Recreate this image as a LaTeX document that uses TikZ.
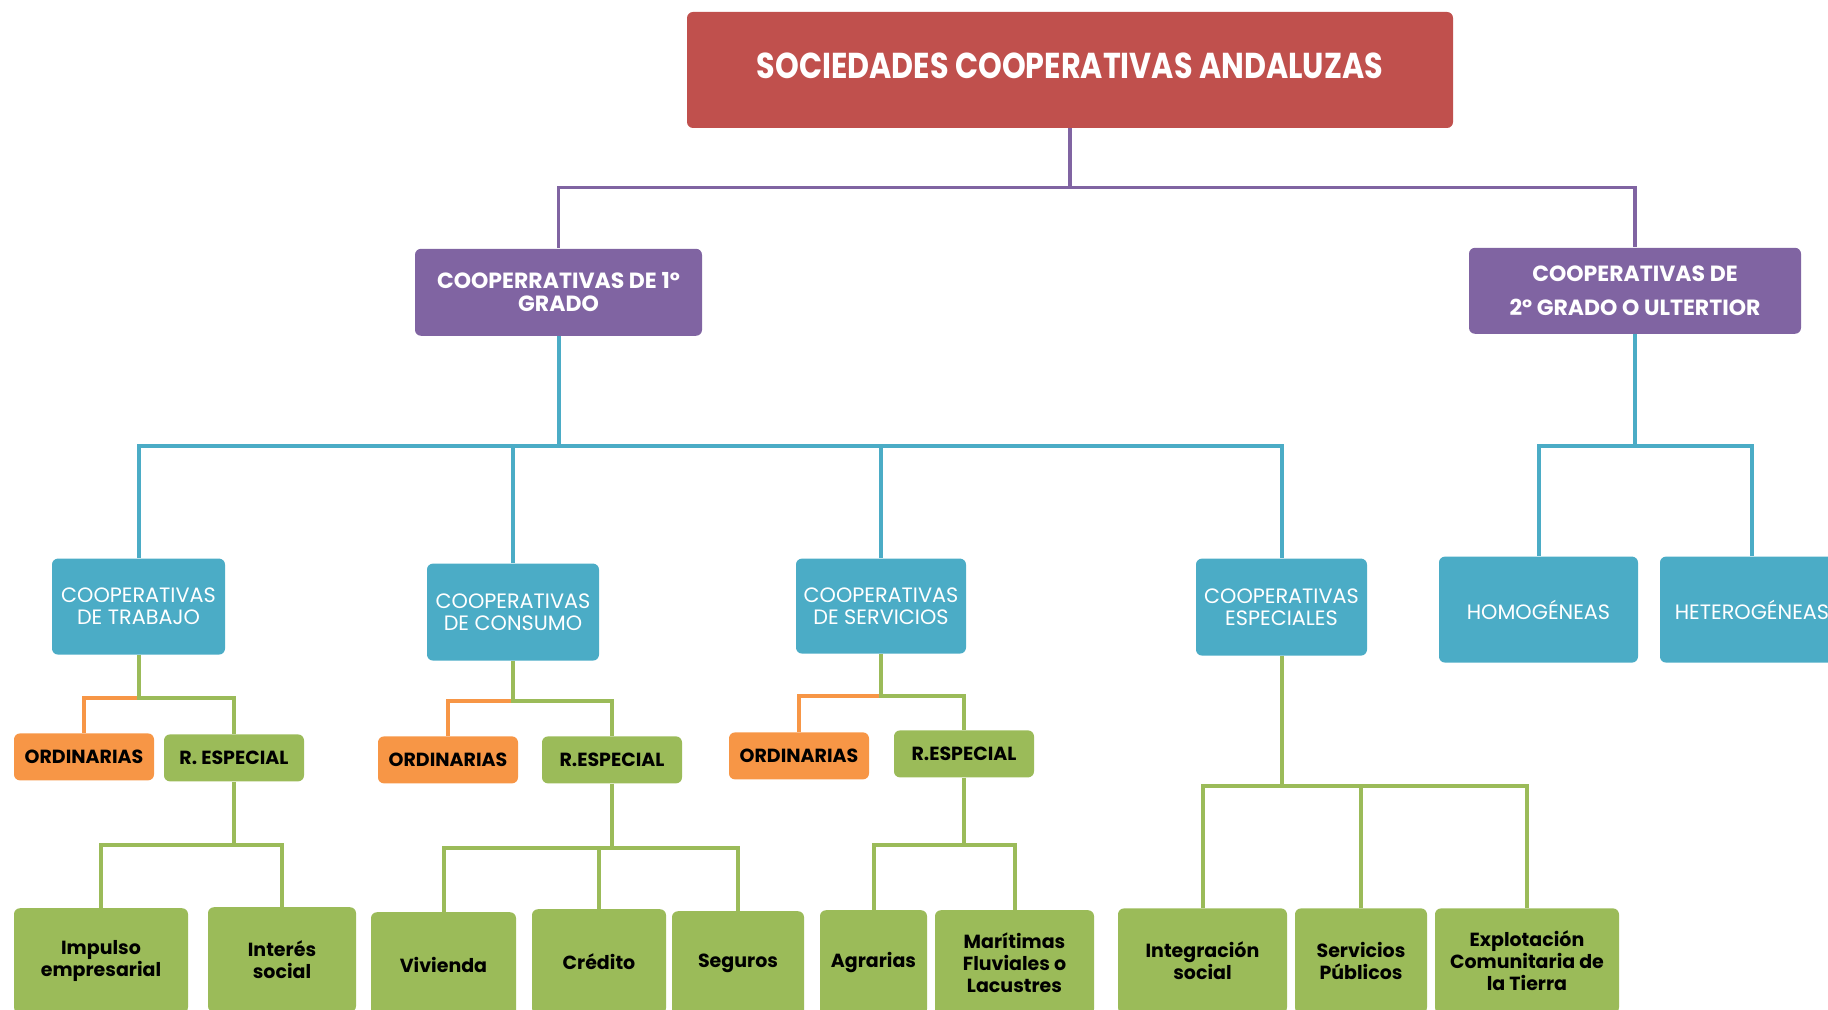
\documentclass[tikz,border=0pt]{standalone}
\usepackage{fontspec}
\setmainfont{Poppins}
\newfontfamily\titlefont{Poppins}[FakeStretch=0.84]
\usetikzlibrary{positioning}
\definecolor{cred}{HTML}{C0504D}
\definecolor{cpurple}{HTML}{8064A2}
\definecolor{cblue}{HTML}{4BACC6}
\definecolor{cgreen}{HTML}{9BBB59}
\definecolor{corange}{HTML}{F79646}

\begin{document}
\begin{tikzpicture}[
    titlebox/.style={rectangle, rounded corners=3pt, fill=cred, text=white, inner sep=0pt, minimum width=383pt, minimum height=58pt, text depth=4pt, font=\titlefont\bfseries\fontsize{18}{20}\selectfont},
    purplebox/.style={rectangle, rounded corners=3pt, fill=cpurple, text=white, inner sep=0pt, align=center, font=\bfseries\fontsize{11}{11.7}\selectfont},
    bluebox/.style={rectangle, rounded corners=3pt, fill=cblue, text=white, inner sep=0pt, align=center, font=\fontsize{10.4}{11}\selectfont},
    ordbox/.style={rectangle, rounded corners=3pt, fill=corange, text=black, inner sep=0pt, minimum width=70pt, minimum height=23.5pt, font=\bfseries\fontsize{9.5}{11}\selectfont},
    espbox/.style={rectangle, rounded corners=3pt, fill=cgreen, text=black, inner sep=0pt, minimum width=70pt, minimum height=23.5pt, font=\bfseries\fontsize{9.5}{11}\selectfont},
    leafbox/.style={rectangle, rounded corners=3pt, fill=cgreen, text=black, inner sep=0pt, minimum height=52.5pt, align=center, font=\bfseries\fontsize{9.5}{11}\selectfont},
    purpleline/.style={draw=cpurple, line width=1.8pt},
    blueline/.style={draw=cblue, line width=2pt},
    greenline/.style={draw=cgreen, line width=2pt},
    orangeline/.style={draw=corange, line width=2pt},
]
\path [use as bounding box, clip] (0,0) rectangle (914pt,-505pt);

% Top levels
\node (root) [titlebox] at (535pt,-35pt) {SOCIEDADES COOPERATIVAS ANDALUZAS};
\node (grado1) [purplebox, minimum width=143.5pt, minimum height=43.5pt, below=60pt of root, xshift=-255.75pt] {COOPERRATIVAS DE 1º\\GRADO};
\node (grado2) [purplebox, minimum width=166pt, minimum height=43pt, below=59.5pt of root, xshift=282.5pt] {COOPERATIVAS DE\\[5pt]2º GRADO O ULTERTIOR};

% Kinds of cooperatives
\node (trabajo) [bluebox, minimum width=86.5pt, minimum height=48pt, below=111pt of grado1, xshift=-210pt] {COOPERATIVAS\\DE TRABAJO};
\node (consumo) [bluebox, minimum width=86pt, minimum height=48.5pt, below=113.5pt of grado1, xshift=-22.75pt] {COOPERATIVAS\\DE CONSUMO};
\node (servicios) [bluebox, minimum width=85pt, minimum height=47.5pt, below=111pt of grado1, xshift=161.25pt] {COOPERATIVAS\\DE SERVICIOS};
\node (especiales) [bluebox, minimum width=85.5pt, minimum height=48.5pt, below=111pt of grado1, xshift=361.5pt] {COOPERATIVAS\\ESPECIALES};
\node (homog) [bluebox, minimum width=99.5pt, minimum height=53pt, below=111pt of grado2, xshift=-48.25pt] {HOMOGÉNEAS};
\node (heterog) [bluebox, minimum width=92pt, minimum height=53pt, below=111pt of grado2, xshift=58.5pt] {HETEROGÉNEAS};

% Ordinarias / regimen especial
\node (ordtrab) [ordbox, below=39pt of trabajo, xshift=-27.25pt] {ORDINARIAS};
\node (esptrab) [espbox, below=39.5pt of trabajo, xshift=47.75pt] {R. ESPECIAL};
\node (ordcons) [ordbox, below=37.5pt of consumo, xshift=-32.5pt] {ORDINARIAS};
\node (espcons) [espbox, below=37.5pt of consumo, xshift=49.5pt] {R.ESPECIAL};
\node (ordserv) [ordbox, below=39pt of servicios, xshift=-41pt] {ORDINARIAS};
\node (espserv) [espbox, below=38pt of servicios, xshift=41.5pt] {R.ESPECIAL};

% Bottom row
\node (impulso) [leafbox, minimum width=87pt, below=63pt of esptrab, xshift=-66.5pt] {Impulso\\empresarial};
\node (interes) [leafbox, minimum width=74pt, below=62.5pt of esptrab, xshift=24pt] {Interés\\social};
\node (vivienda) [leafbox, minimum width=72.5pt, below=64pt of espcons, xshift=-84.25pt] {Vivienda};
\node (credito) [leafbox, minimum width=67pt, below=62.5pt of espcons, xshift=-6.5pt] {Crédito};
\node (seguros) [leafbox, minimum width=66pt, below=63.5pt of espcons, xshift=63pt] {Seguros};
\node (agrarias) [leafbox, minimum width=53.5pt, below=66pt of espserv, xshift=-45.25pt] {Agrarias};
\node (maritimas) [leafbox, minimum width=79.5pt, below=66pt of espserv, xshift=25.25pt] {Marítimas\\Fluviales o\\Lacustres};
\node (integracion) [leafbox, minimum width=84.5pt, below=126pt of especiales, xshift=-39.5pt] {Integración\\social};
\node (servpub) [leafbox, minimum width=66pt, below=126pt of especiales, xshift=39.75pt] {Servicios\\Públicos};
\node (explot) [leafbox, minimum width=92pt, below=126pt of especiales, xshift=122.75pt] {Explotación\\Comunitaria de\\la Tierra};

% Connectors
\draw [purpleline] (root.south) -- ++(0,-29.5pt) -| (grado1.north);
\draw [purpleline] (root.south) -- ++(0,-29.5pt) -| (grado2.north);

\draw [blueline] (grado1.south) -- ++(0,-55pt) -| (trabajo.north);
\draw [blueline] (grado1.south) -- ++(0,-55pt) -| (consumo.north);
\draw [blueline] (grado1.south) -- ++(0,-55pt) -| (servicios.north);
\draw [blueline] (grado1.south) -- ++(0,-55pt) -| (especiales.north);
\draw [blueline] (grado2.south) -- ++(0,-56pt) -| (homog.north);
\draw [blueline] (grado2.south) -- ++(0,-56pt) -| (heterog.north);

\draw [orangeline] (trabajo.south) -- ++(0,-21.5pt) -| (ordtrab.north);
\draw [greenline] (trabajo.south) -- ++(0,-21.5pt) -| (esptrab.north);
\draw [orangeline] (consumo.south) -- ++(0,-20pt) -| (ordcons.north);
\draw [greenline] (consumo.south) -- ++(0,-20pt) -| (espcons.north);
\draw [orangeline] (servicios.south) -- ++(0,-21pt) -| (ordserv.north);
\draw [greenline] (servicios.south) -- ++(0,-21pt) -| (espserv.north);

\draw [greenline] (esptrab.south) -- ++(0,-31.5pt) -| (impulso.north);
\draw [greenline] (esptrab.south) -- ++(0,-31.5pt) -| (interes.north);
\draw [greenline] (espcons.south) -- ++(0,-32pt) -| (vivienda.north);
\draw [greenline] (espcons.south) -- ++(0,-32pt) -| (credito.north);
\draw [greenline] (espcons.south) -- ++(0,-32pt) -| (seguros.north);
\draw [greenline] (espserv.south) -- ++(0,-33.5pt) -| (agrarias.north);
\draw [greenline] (espserv.south) -- ++(0,-33.5pt) -| (maritimas.north);
\draw [greenline] (especiales.south) -- ++(0,-65pt) -| (integracion.north);
\draw [greenline] (especiales.south) -- ++(0,-65pt) -| (servpub.north);
\draw [greenline] (especiales.south) -- ++(0,-65pt) -| (explot.north);

\end{tikzpicture}
\end{document}
